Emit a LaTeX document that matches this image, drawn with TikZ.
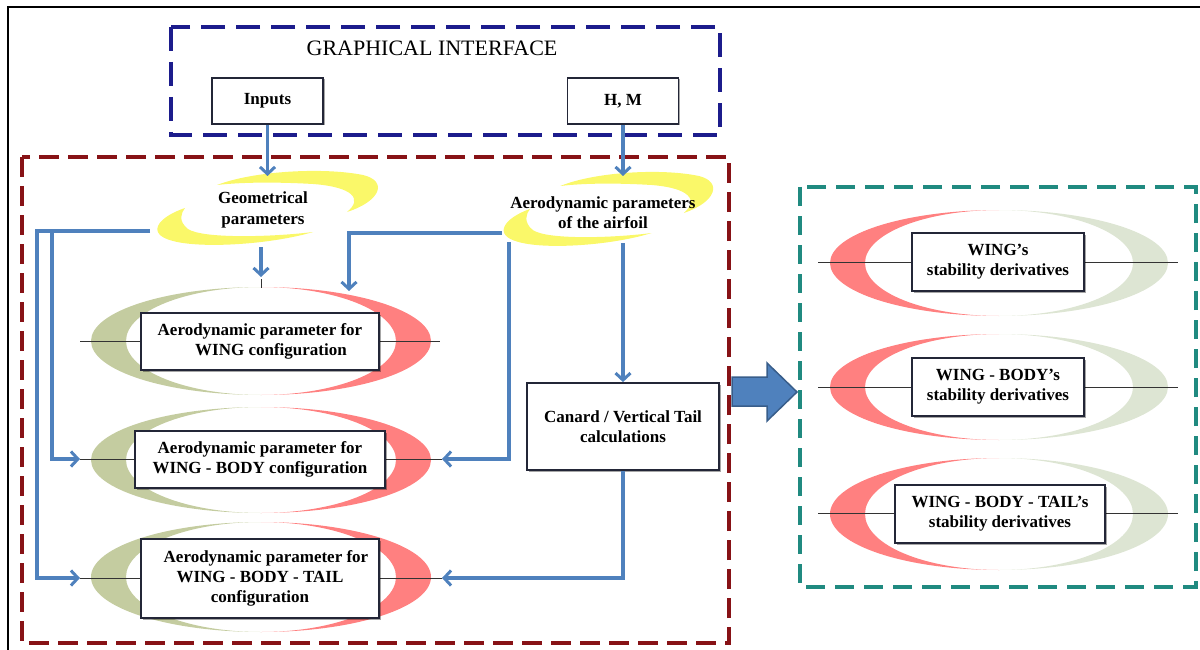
\documentclass[tikz,border=0pt]{standalone}
\usepackage{fontspec}
\setmainfont{Liberation Serif}
\usetikzlibrary{arrows.meta,shadows}
\definecolor{gblue}{RGB}{28,28,140}
\definecolor{gred}{RGB}{135,18,22}
\definecolor{gteal}{RGB}{32,138,128}
\definecolor{flowblue}{RGB}{79,129,189}
\definecolor{flowdark}{RGB}{56,93,138}
\definecolor{swirlcol}{RGB}{250,248,105}
\definecolor{olivecol}{RGB}{196,204,160}
\definecolor{sagecol}{RGB}{221,229,211}
\definecolor{salmoncol}{RGB}{255,128,128}
\definecolor{boxline}{RGB}{35,38,55}
\tikzset{
  frameline/.style={line width=2.4pt},
  gibox/.style={draw=gblue, line width=3.5pt, dash pattern=on 24pt off 11pt},
  calcbox/.style={draw=gred, line width=3.5pt, dash pattern=on 20pt off 9pt},
  resbox/.style={draw=gteal, line width=3.2pt, dash pattern=on 19pt off 10pt},
  flow/.style={draw=flowblue, line width=3.2pt, -{Straight Barb[length=7pt,width=15pt,line width=3pt]}},
  axisline/.style={draw=black!80, line width=1pt},
  box/.style={draw=boxline, fill=white, line width=1.8pt, align=center,
    font=\bfseries\fontsize{17}{20}\selectfont, inner sep=0pt,
    drop shadow={shadow xshift=1.5pt, shadow yshift=-1.5pt, opacity=0.35, fill=black}},
  txt/.style={align=center, font=\bfseries\fontsize{17}{21}\selectfont, inner sep=0pt},
  bigarrow/.style={fill=flowblue, draw=flowdark, line width=1.5pt},
  swirlshape/.pic={
    \fill[swirlcol] (-46,-24) .. controls (-10,-38) and (60,-42) .. (100,-34)
       .. controls (125,-28) and (118,-8) .. (84,3)
       .. controls (100,-10) and (90,-22) .. (50,-25)
       .. controls (15,-27) and (-20,-27) .. (-46,-24) -- cycle;
    \fill[swirlcol] (-78,-1) .. controls (-105,8) and (-118,25) .. (-90,32)
       .. controls (-60,40) and (10,35) .. (50,23)
       .. controls (10,28) and (-60,30) .. (-75,20)
       .. controls (-85,12) and (-82,4) .. (-78,-1) -- cycle;
  }
}
\newcommand\crescentpair[6]{%
  \fill[#5] (#1,#2-#4) arc[start angle=270,end angle=90,x radius=#3,y radius=#4]
     arc[start angle=90,end angle=270,x radius=#3-35,y radius=#4] -- cycle;
  \fill[#6] (#1,#2-#4) arc[start angle=270,end angle=450,x radius=#3,y radius=#4]
     arc[start angle=450,end angle=270,x radius=#3-35,y radius=#4] -- cycle;
}
\begin{document}
\begin{tikzpicture}[x=1pt,y=-1pt]
\useasboundingbox (0,0) rectangle (1200,650);
% outer frame
\draw[frameline] (8,650) -- (8,7) -- (1200,7);
% dashed groups
\draw[gibox] (171,27) rectangle (720,135);
\draw[calcbox] (22,157) rectangle (729,643);
\draw[resbox] (800,187) rectangle (1196,587);

% graphical interface
\node[txt, font=\fontsize{22}{24}\selectfont] (title) at (432,48) {GRAPHICAL INTERFACE};
\node[box, minimum width=111pt, minimum height=46pt] (inputs) at (267.5,101) {Inputs};
\node[box, minimum width=111pt, minimum height=46pt] (hm) at (623,101) {H, M};

% yellow swirls
\pic at (263,209) {swirlshape};
\pic[xscale=0.95] at (604,210) {swirlshape};
\node[txt] (geo) at (263,210) {Geometrical\\parameters};
\node[txt, font=\bfseries\fontsize{17}{20}\selectfont] (aero) at (603,213) {Aerodynamic parameters\\of the airfoil};

% left ellipses
\crescentpair{261}{341}{170}{54}{olivecol}{salmoncol}
\crescentpair{261}{460}{170}{53}{olivecol}{salmoncol}
\crescentpair{261}{577}{170}{55}{olivecol}{salmoncol}
\coordinate (e1L) at (80,341);  \coordinate (e1R) at (440,341);
\coordinate (e2L) at (80,459);  \coordinate (e2R) at (442,459);
\coordinate (e3L) at (80,578);  \coordinate (e3R) at (442,578);
\draw[axisline] (e1L) -- (e1R);
\draw[axisline] (e2L) -- (e2R);
\draw[axisline] (e3L) -- (e3R);
\draw[axisline] (261,279) -- (261,288);

% right ellipses
\crescentpair{999}{263}{169}{53}{salmoncol}{sagecol}
\crescentpair{999}{387}{169}{53}{salmoncol}{sagecol}
\crescentpair{999}{514}{169}{56}{salmoncol}{sagecol}
\coordinate (r1L) at (818,262);  \coordinate (r1R) at (1178,262);
\coordinate (r2L) at (818,387);  \coordinate (r2R) at (1178,387);
\coordinate (r3L) at (818,513);  \coordinate (r3R) at (1178,513);
\draw[axisline] (r1L) -- (r1R);
\draw[axisline] (r2L) -- (r2R);
\draw[axisline] (r3L) -- (r3R);

% boxes
\node[box, minimum width=238pt, minimum height=57pt] (wing) at (260,341.5)
  {Aerodynamic parameter for\\\hspace*{22pt}WING configuration};
\node[box, minimum width=250pt, minimum height=57pt] (wingbody) at (260,459.5)
  {Aerodynamic parameter for\\WING - BODY configuration};
\node[box, minimum width=238pt, minimum height=79pt] (wbt) at (260,578.5)
  {\hspace*{12pt}Aerodynamic parameter for\\WING - BODY - TAIL\\configuration};
\node[box, minimum width=192pt, minimum height=87pt] (canard) at (623,426.5)
  {Canard / Vertical Tail\\calculations};
\node[box, minimum width=172pt, minimum height=58pt] (rw) at (998,262)
  {WING's\\stability derivatives};
\node[box, minimum width=172pt, minimum height=58pt] (rwb) at (998,387)
  {WING - BODY's\\stability derivatives};
\node[box, minimum width=210pt, minimum height=58pt] (rwbt) at (1000,514)
  {WING - BODY - TAIL's\\stability derivatives};

% connector coordinates
\coordinate (geoIn) at (267.5,176);
\coordinate (aeroIn) at (623,176);
\coordinate (geoOut) at (261,247);
\coordinate (e1Top) at (261,277);
\coordinate (geoL) at (150,231);
\coordinate (cornerA) at (37,578);
\coordinate (junction) at (52,231);
\coordinate (aeroL) at (502,233);
\coordinate (e1TopR) at (349,291);
\coordinate (aeroOut2) at (509,242);
\coordinate (aeroOut) at (623,243);

% connectors
\draw[flow] (inputs.south) -- (geoIn);
\draw[flow] (hm.south) -- (aeroIn);
\draw[flow] (geoOut) -- (e1Top);
\draw[flow] (geoL) -| (cornerA) -- (e3L);
\draw[flow] (junction) |- (e2L);
\draw[flow] (aeroL) -| (e1TopR);
\draw[flow] (aeroOut2) |- (e2R);
\draw[flow] (aeroOut) -- (canard.north);
\draw[flow] (canard.south) |- (e3R);

% big arrow to results
\draw[bigarrow] (732,377) -- (767,377) -- (767,363) -- (797,392) -- (767,421) -- (767,406) -- (732,406) -- cycle;
\end{tikzpicture}
\end{document}
